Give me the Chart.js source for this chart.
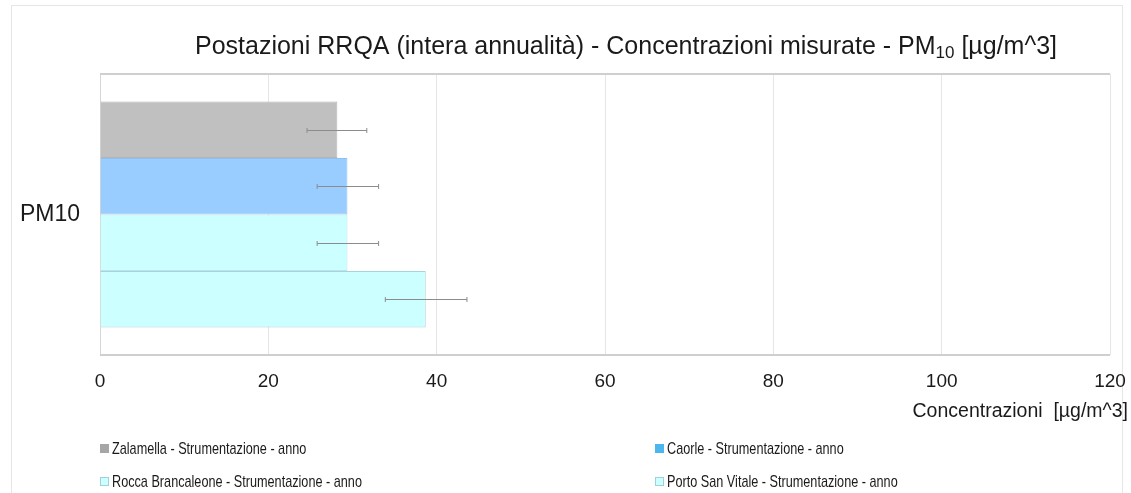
<!DOCTYPE html>
<html>
<head>
<meta charset="utf-8">
<script src="https://cdn.jsdelivr.net/npm/chart.js@4/dist/chart.umd.min.js"></script>
<style>
  html, body { margin: 0; padding: 0; background: #fff; }
  #wrap { width: 1131px; height: 493px; }
</style>
</head>
<body>
<div id="wrap"><canvas id="chart" width="1131" height="493"></canvas></div>
<script>
// Data
const categories = ['PM10'];
const seriesNames = [
    'Zalamella - Strumentazione - anno',
    'Caorle - Strumentazione - anno',
    'Rocca Brancaleone - Strumentazione - anno',
    'Porto San Vitale - Strumentazione - anno'
];
const zalamella = [28.2];
const caorle = [29.4];
const roccaBrancaleone = [29.4];
const portoSanVitale = [38.7];
const errLow = [[24.6], [25.8], [25.8], [33.9]];
const errHigh = [[31.7], [33.1], [33.1], [43.6]];
const xTicks = [0, 20, 40, 60, 80, 100, 120];

const barColors = ['#c0c0c0', '#99ccff', '#ccffff', '#ccffff'];
const barBorders = ['#b4b4b4', '#8fc0ef', '#b9e6ec', '#a9d3dc'];
const legendColors = ['#a6a6a6', '#4db6ee', '#ccffff', '#ccffff'];
const legendBorders = ['#a6a6a6', '#4db6ee', '#9fd0dc', '#9fd0dc'];

const FONT = '"Liberation Sans", Arial, sans-serif';

// Frame, plot box, title, axis title and legend
const framePlugin = {
    id: 'frame',
    beforeDraw(chart) {
        const ctx = chart.ctx;
        ctx.save();
        ctx.strokeStyle = '#e6e6e6';
        ctx.lineWidth = 1;
        ctx.strokeRect(11.5, 5.5, 1111, 600);
        ctx.restore();
    },
    afterDraw(chart) {
        const ctx = chart.ctx;
        const a = chart.chartArea;
        ctx.save();
        // plot box
        ctx.strokeStyle = '#cfcfcf';
        ctx.lineWidth = 2;
        ctx.beginPath();
        ctx.moveTo(a.left, a.top);
        ctx.lineTo(a.right, a.top);
        ctx.moveTo(a.left, a.bottom);
        ctx.lineTo(a.right, a.bottom);
        ctx.stroke();

        // title with subscript
        const main = 'Postazioni RRQA (intera annualità) - Concentrazioni misurate - PM';
        const sub = '10';
        const tail = ' [µg/m^3]';
        ctx.fillStyle = '#1a1a1a';
        ctx.textBaseline = 'alphabetic';
        ctx.font = '25px ' + FONT;
        const w1 = ctx.measureText(main).width;
        const w3 = ctx.measureText(tail).width;
        ctx.font = '17px ' + FONT;
        const w2 = ctx.measureText(sub).width;
        let x = 626 - (w1 + w2 + w3) / 2;
        const base = 54;
        ctx.font = '25px ' + FONT;
        ctx.fillText(main, x, base);
        x += w1;
        ctx.font = '17px ' + FONT;
        ctx.fillText(sub, x, base + 4);
        x += w2;
        ctx.font = '25px ' + FONT;
        ctx.fillText(tail, x, base);

        // axis title
        ctx.font = '19.5px ' + FONT;
        ctx.textAlign = 'right';
        ctx.fillText('Concentrazioni  [µg/m^3]', 1128, 417);

        // legend in two columns, narrow text
        ctx.textAlign = 'left';
        ctx.font = '17px ' + FONT;
        const cols = [100, 655];
        const rows = [444, 477];
        seriesNames.forEach((name, i) => {
            const cx = cols[i % 2];
            const cy = rows[Math.floor(i / 2)];
            ctx.fillStyle = legendColors[i];
            ctx.fillRect(cx, cy, 9, 9);
            ctx.strokeStyle = legendBorders[i];
            ctx.lineWidth = 1;
            ctx.strokeRect(cx + 0.5, cy + 0.5, 8, 8);
            ctx.fillStyle = '#1a1a1a';
            ctx.save();
            ctx.translate(cx + 12, cy + 10);
            ctx.scale(0.745, 1);
            ctx.fillText(name, 0, 0);
            ctx.restore();
        });
        ctx.restore();
    }
};

// Error bars drawn from errLow / errHigh through the x scale
const errorBarPlugin = {
    id: 'errorBars',
    afterDatasetsDraw(chart) {
        const ctx = chart.ctx;
        const xs = chart.scales.x;
        ctx.save();
        ctx.strokeStyle = '#8c8c8c';
        ctx.lineWidth = 1;
        chart.data.datasets.forEach((ds, i) => {
            const meta = chart.getDatasetMeta(i);
            meta.data.forEach((bar, j) => {
                const y = Math.round(bar.y) + 0.5;
                const x1 = xs.getPixelForValue(errLow[i][j]);
                const x2 = xs.getPixelForValue(errHigh[i][j]);
                ctx.beginPath();
                ctx.moveTo(x1, y);
                ctx.lineTo(x2, y);
                ctx.moveTo(x1, y - 2.5);
                ctx.lineTo(x1, y + 2.5);
                ctx.moveTo(x2, y - 2.5);
                ctx.lineTo(x2, y + 2.5);
                ctx.stroke();
            });
        });
        ctx.restore();
    }
};

const seriesValues = [zalamella, caorle, roccaBrancaleone, portoSanVitale];

new Chart(document.getElementById('chart').getContext('2d'), {
    type: 'bar',
    data: {
        labels: categories,
        datasets: seriesNames.map((name, i) => ({
            label: name,
            data: seriesValues[i],
            backgroundColor: barColors[i],
            borderColor: barBorders[i],
            borderWidth: 1,
            categoryPercentage: 0.805,
            barPercentage: 1
        }))
    },
    options: {
        indexAxis: 'y',
        responsive: false,
        animation: false,
        layout: { padding: { left: 12, right: 21, top: 74, bottom: 98 } },
        plugins: {
            legend: { display: false },
            title: { display: false },
            tooltip: { enabled: false }
        },
        scales: {
            x: {
                min: 0,
                max: 120,
                afterBuildTicks: s => { s.ticks = xTicks.map(v => ({ value: v })); },
                afterFit: s => {
                    s.height = 40;
                    s.paddingLeft = 0;
                    s.paddingRight = 0;
                },
                grid: { color: '#e6e6e6', drawTicks: false },
                border: { display: false },
                ticks: {
                    color: '#1a1a1a',
                    font: { family: FONT, size: 19 },
                    padding: 15,
                    maxRotation: 0
                }
            },
            y: {
                afterFit: s => { s.width = 88; },
                grid: { display: false, drawTicks: false },
                border: { display: true, color: '#d6d6d6', width: 1 },
                ticks: {
                    color: '#1a1a1a',
                    font: { family: FONT, size: 23 },
                    padding: 20
                }
            }
        }
    },
    plugins: [framePlugin, errorBarPlugin]
});
</script>
</body>
</html>
